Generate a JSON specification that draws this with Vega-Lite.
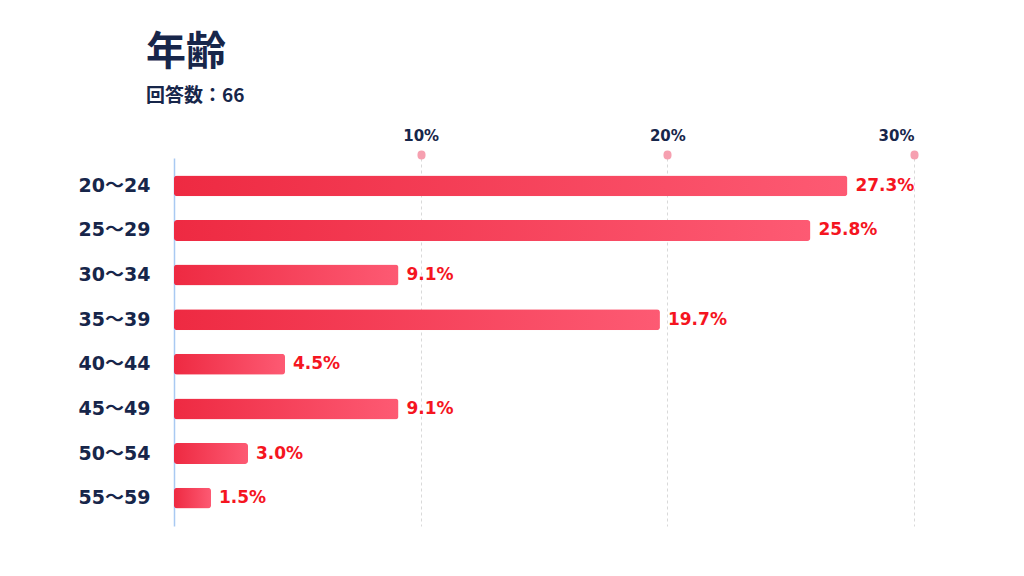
{
  "$schema": "https://vega.github.io/schema/vega-lite/v6.json",
  "autosize": "none",
  "width": 740,
  "height": 368,
  "padding": {"left": 174, "top": 158, "right": 110, "bottom": 50},
  "background": "#ffffff",
  "config": {
    "view": {"stroke": null},
    "font": "DejaVu Sans, Noto Sans CJK JP"
  },
  "title": {
    "text": "年齢",
    "subtitle": "回答数：66",
    "anchor": "start",
    "frame": "group",
    "dx": -28,
    "offset": 22,
    "font": "Noto Sans CJK JP",
    "fontSize": 40,
    "fontWeight": "bold",
    "color": "#17264a",
    "subtitleFont": "Noto Sans CJK JP",
    "subtitleFontSize": 19,
    "subtitleFontWeight": "bold",
    "subtitleColor": "#17264a",
    "subtitlePadding": 14
  },
  "data": {
    "values": [
      {"age": "20～24", "pct": 27.3},
      {"age": "25～29", "pct": 25.8},
      {"age": "30～34", "pct": 9.1},
      {"age": "35～39", "pct": 19.7},
      {"age": "40～44", "pct": 4.5},
      {"age": "45～49", "pct": 9.1},
      {"age": "50～54", "pct": 3.0},
      {"age": "55～59", "pct": 1.5}
    ]
  },
  "transform": [
    {"calculate": "format(datum.pct, '.1f') + '%'", "as": "label"}
  ],
  "encoding": {
    "y": {
      "field": "age",
      "type": "nominal",
      "sort": null,
      "title": null,
      "scale": {"paddingInner": 0.53, "paddingOuter": 0.39},
      "axis": {
        "ticks": false,
        "domainColor": "#a9c9f2",
        "domainWidth": 1.5,
        "labelPadding": 24,
        "labelFontSize": 19,
        "labelFontWeight": "bold",
        "labelColor": "#17264a",
        "grid": false
      }
    },
    "x": {
      "field": "pct",
      "type": "quantitative",
      "title": null,
      "scale": {"domain": [0, 30]},
      "axis": {
        "orient": "top",
        "values": [10, 20, 30],
        "labelExpr": "datum.value + '%'",
        "domain": false,
        "tickColor": "#f6a0b0",
        "tickWidth": 8,
        "tickSize": 1,
        "tickCap": "round",
        "offset": 3,
        "labelPadding": 11,
        "labelFontSize": 15,
        "labelFontWeight": "bold",
        "labelColor": "#17264a",
        "grid": true,
        "gridColor": "#d9d9d9",
        "gridDash": [3, 3],
        "gridWidth": 1
      }
    }
  },
  "layer": [
    {
      "mark": {
        "type": "bar",
        "cornerRadius": 3,
        "color": {
          "gradient": "linear",
          "x1": 0, "y1": 0, "x2": 1, "y2": 0,
          "stops": [
            {"offset": 0, "color": "#ee2a42"},
            {"offset": 1, "color": "#fd5a73"}
          ]
        }
      }
    },
    {
      "mark": {
        "type": "text",
        "align": "left",
        "dx": 8,
        "fontSize": 17,
        "fontWeight": "bold",
        "color": "#f5151f"
      },
      "encoding": {
        "text": {"field": "label", "type": "nominal"}
      }
    }
  ]
}
